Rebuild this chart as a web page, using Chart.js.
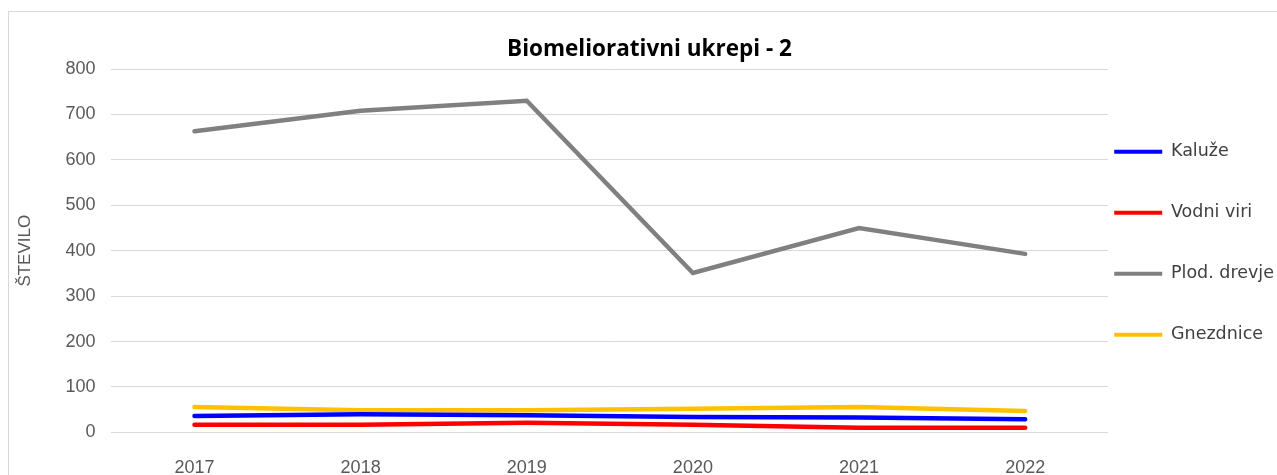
<!DOCTYPE html>
<html>
<head>
<meta charset="utf-8">
<script src="https://cdn.jsdelivr.net/npm/chart.js@4"></script>
<style>
  html, body { margin: 0; padding: 0; background: #fff; overflow: hidden; }
  #box { position: absolute; left: 8px; top: 11px; width: 1290px; height: 500px; border: 1px solid #d9d9d9; }
  canvas { display: block; }
</style>
</head>
<body>
<div id="box"><canvas id="chart" width="1282" height="484"></canvas></div>
<script>
const years = ['2017', '2018', '2019', '2020', '2021', '2022'];
const kaluze = [36, 40, 38, 34, 33, 29];
const vodniViri = [17, 17, 21, 17, 10, 10];
const plodDrevje = [663, 708, 730, 351, 450, 393];
const gnezdnice = [56, 49, 49, 52, 56, 47];

const tickFont = '"Liberation Sans", Arial, sans-serif';

function series(label, data, color) {
  return {
    label: label,
    data: data,
    borderColor: color,
    backgroundColor: color,
    borderWidth: 4.5,
    pointRadius: 0,
    tension: 0,
    borderCapStyle: 'round',
    fill: false
  };
}

const ctx = document.getElementById('chart').getContext('2d');
new Chart(ctx, {
  type: 'line',
  data: {
    labels: years,
    datasets: [
      series('Kalu\u017ee', kaluze, '#0000ff'),
      series('Vodni viri', vodniViri, '#ff0000'),
      series('Plod. drevje', plodDrevje, '#808080'),
      series('Gnezdnice', gnezdnice, '#ffc000')
    ]
  },
  options: {
    responsive: false,
    animation: false,
    layout: { padding: { top: 22, left: 6, right: 7, bottom: 0 } },
    scales: {
      x: {
        offset: true,
        grid: { display: false },
        border: { display: false },
        ticks: { color: '#595959', font: { family: tickFont, size: 18 }, padding: 17 }
      },
      y: {
        min: 0,
        max: 800,
        ticks: { stepSize: 100, color: '#595959', font: { family: tickFont, size: 18 }, padding: 16 },
        grid: { color: '#d9d9d9', lineWidth: 1, drawTicks: false },
        border: { display: false },
        title: {
          display: true,
          text: '\u0160TEVILO',
          color: '#595959',
          font: { family: tickFont, size: 17 },
          padding: { top: 0, bottom: 14 }
        }
      }
    },
    plugins: {
      title: {
        display: true,
        text: 'Biomeliorativni ukrepi - 2',
        color: '#000',
        font: { family: '"Open Sans", sans-serif', size: 22.5, weight: 'bold' },
        padding: { top: 2, bottom: 6 }
      },
      legend: {
        display: true,
        position: 'right',
        align: 'start',
        title: {
          display: true,
          text: ' ',
          font: { size: 10, lineHeight: '10px' },
          padding: { top: 93, bottom: 0 }
        },
        labels: {
          boxWidth: 48,
          boxHeight: 4,
          padding: 6,
          color: '#404040',
          font: { family: '"DejaVu Sans", sans-serif', size: 17.5, lineHeight: '55px' },
          generateLabels: function(chart) {
            const items = Chart.defaults.plugins.legend.labels.generateLabels(chart);
            items.forEach(function(it) {
              it.lineWidth = 0;
              it.text = [it.text];
            });
            return items;
          }
        }
      },
      tooltip: { enabled: false }
    }
  }
});
</script>
</body>
</html>
